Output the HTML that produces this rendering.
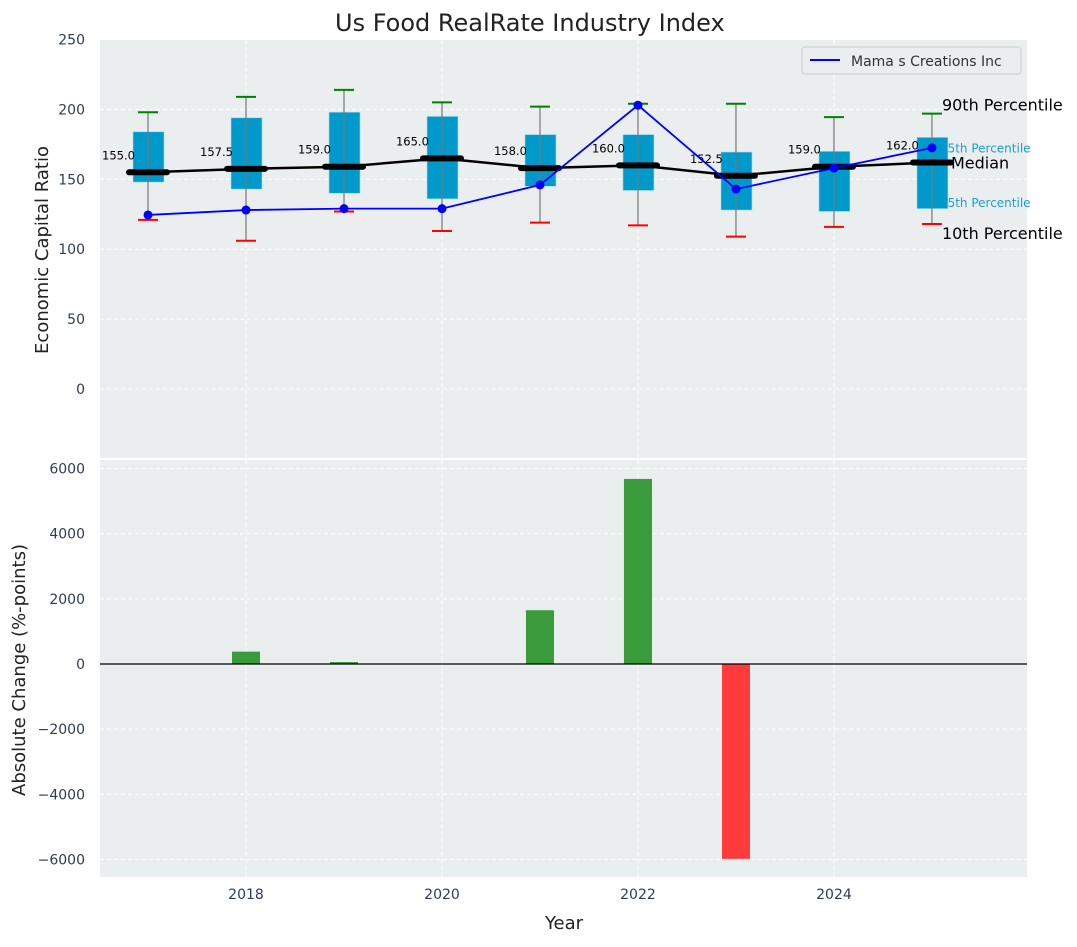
<!DOCTYPE html>
<html><head><meta charset="utf-8"><style>
body{margin:0;background:#fff;font-family:"Liberation Sans","DejaVu Sans",sans-serif}
svg text{font-family:"DejaVu Sans","Liberation Sans",sans-serif}
</style></head><body>
<svg id="c" width="1077" height="942" xmlns="http://www.w3.org/2000/svg"></svg>
<script>
const years=[2017,2018,2019,2020,2021,2022,2023,2024,2025];
const p10=[121,106,127,113,119,117,109,116,118];
const q25=[148,143,140,136,145,142,128,127,129];
const med=[155,157.5,159,165,158,160,152.5,159,162];
const q75=[184,194,198,195,182,182,169.5,170,180];
const p90=[198,209,214,205,202,204,204,194.5,197];
const company=[124.5,128,129,129,146,203,143,158,172.5];
const change=[0,380,60,0,1650,5680,-5980,0,0];
const topTicks=[0,50,100,150,200,250];
const botTicks=[-6000,-4000,-2000,0,2000,4000,6000];
const xTicks=[2018,2020,2022,2024];

const NS="http://www.w3.org/2000/svg",svg=document.getElementById('c');
function el(t,a,txt){const e=document.createElementNS(NS,t);for(const k in a)e.setAttribute(k,a[k]);if(txt!=null)e.textContent=txt;svg.appendChild(e);return e;}
const L=100,R=1027;
const x=v=>L+(v-2016.51)/(2025.97-2016.51)*(R-L);
const yT=v=>389-v*1.398;
const yB=v=>664-v*(195.5/6000);

let e;
e=el('rect',{x:L,y:40,width:R-L,height:418,fill:'#eaeeee'});


e=el('rect',{x:L,y:460,width:R-L,height:417,fill:'#eaeeee'});


topTicks.forEach(t=>{el('line',{x1:L,x2:R,y1:yT(t),y2:yT(t),stroke:'#fff','stroke-dasharray':'4,3','stroke-width':1});
 e=el('text',{x:85,y:yT(t)+5,'text-anchor':'end','font-size':14,fill:'#2e3e50'},t);
 });
botTicks.forEach(t=>{el('line',{x1:L,x2:R,y1:yB(t),y2:yB(t),stroke:'#fff','stroke-dasharray':'4,3','stroke-width':1});
 e=el('text',{x:85,y:yB(t)+5,'text-anchor':'end','font-size':14,fill:'#2e3e50'},t<0?'\u2212'+(-t):t);
 });
xTicks.forEach(t=>{el('line',{x1:x(t),x2:x(t),y1:40,y2:458,stroke:'#fff','stroke-dasharray':'4,3'});
 el('line',{x1:x(t),x2:x(t),y1:460,y2:877,stroke:'#fff','stroke-dasharray':'4,3'});
 e=el('text',{x:x(t),y:899,'text-anchor':'middle','font-size':14,fill:'#2e3e50'},t);
 });
const lab=(t,yy,c,fs,n)=>{e=el('text',{x:yy[0],y:yy[1],'font-size':fs,fill:c},t);};
const lx=x(2025);
lab('90th Percentile',[lx+10,yT(p90[8])-3],'#000',16,'p90-label');
lab('75th Percentile',[lx+8,yT(172)+4],'#1a9fd0',12,'p75-label');
lab('25th Percentile',[lx+8,yT(133)+4],'#1a9fd0',12,'p25-label');
lab('10th Percentile',[lx+10,yT(p10[8])+15],'#000',16,'p10-label');
years.forEach((yr,i)=>{const cx=x(yr);
 e=el('rect',{x:cx-15,y:yT(q75[i]),width:31,height:yT(q25[i])-yT(q75[i]),fill:'#0099cc',stroke:'#a8dcec','stroke-width':0.6});
 
 el('line',{x1:cx,x2:cx,y1:yT(p90[i]),y2:yT(p10[i]),stroke:'#777','stroke-width':1.2});
 el('line',{x1:cx-10,x2:cx+10,y1:yT(p90[i]),y2:yT(p90[i]),stroke:'green','stroke-width':2});
 el('line',{x1:cx-10,x2:cx+10,y1:yT(p10[i]),y2:yT(p10[i]),stroke:'red','stroke-width':2});
});
e=el('polyline',{points:years.map((yr,i)=>x(yr)+','+yT(med[i])).join(' '),fill:'none',stroke:'#000','stroke-width':2.5});

years.forEach((yr,i)=>{const cx=x(yr);
 el('line',{x1:cx-19,x2:cx+19,y1:yT(med[i]),y2:yT(med[i]),stroke:'#000','stroke-width':6,'stroke-linecap':'round'});
 e=el('text',{x:cx-46,y:yT(med[i])-13,'font-size':11.5,fill:'#000'},med[i].toFixed(1));
 
});
e=el('polyline',{points:years.map((yr,i)=>x(yr)+','+yT(company[i])).join(' '),fill:'none',stroke:'#0000ff','stroke-width':1.8});

years.forEach((yr,i)=>{e=el('circle',{cx:x(yr),cy:yT(company[i]),r:4.5,fill:'#0000ff'});
 });
lab('Median',[lx+19,yT(med[8])+6],'#000',16,'median-label');
e=el('rect',{x:802,y:47,width:219,height:27,rx:3,fill:'#eaeeee',stroke:'#ccc'});

el('line',{x1:810,x2:840,y1:60,y2:60,stroke:'#0000ff','stroke-width':2});
lab('Mama s Creations Inc',[851,66],'#333',14,'legend-entry');
years.forEach((yr,i)=>{const v=change[i];if(!v)return;const cx=x(yr);
 e=el('rect',{x:cx-14,y:Math.min(yB(v),yB(0)),width:28,height:Math.abs(yB(v)-yB(0)),fill:v>0?'#3a9b3a':'#ff3b3b'});
 });
el('line',{x1:L,x2:R,y1:yB(0),y2:yB(0),stroke:'#000','stroke-width':1.2});
lab('Us Food RealRate Industry Index',[335,31],'#222',24,'chart-title');
e=el('text',{x:564,y:929,'text-anchor':'middle','font-size':18,fill:'#222'},'Year');

e=el('text',{transform:'translate(48,250) rotate(-90)','text-anchor':'middle','font-size':18,fill:'#222'},'Economic Capital Ratio');

e=el('text',{transform:'translate(25,670) rotate(-90)','text-anchor':'middle','font-size':18,fill:'#222'},'Absolute Change (%-points)');

</script>
</body></html>
